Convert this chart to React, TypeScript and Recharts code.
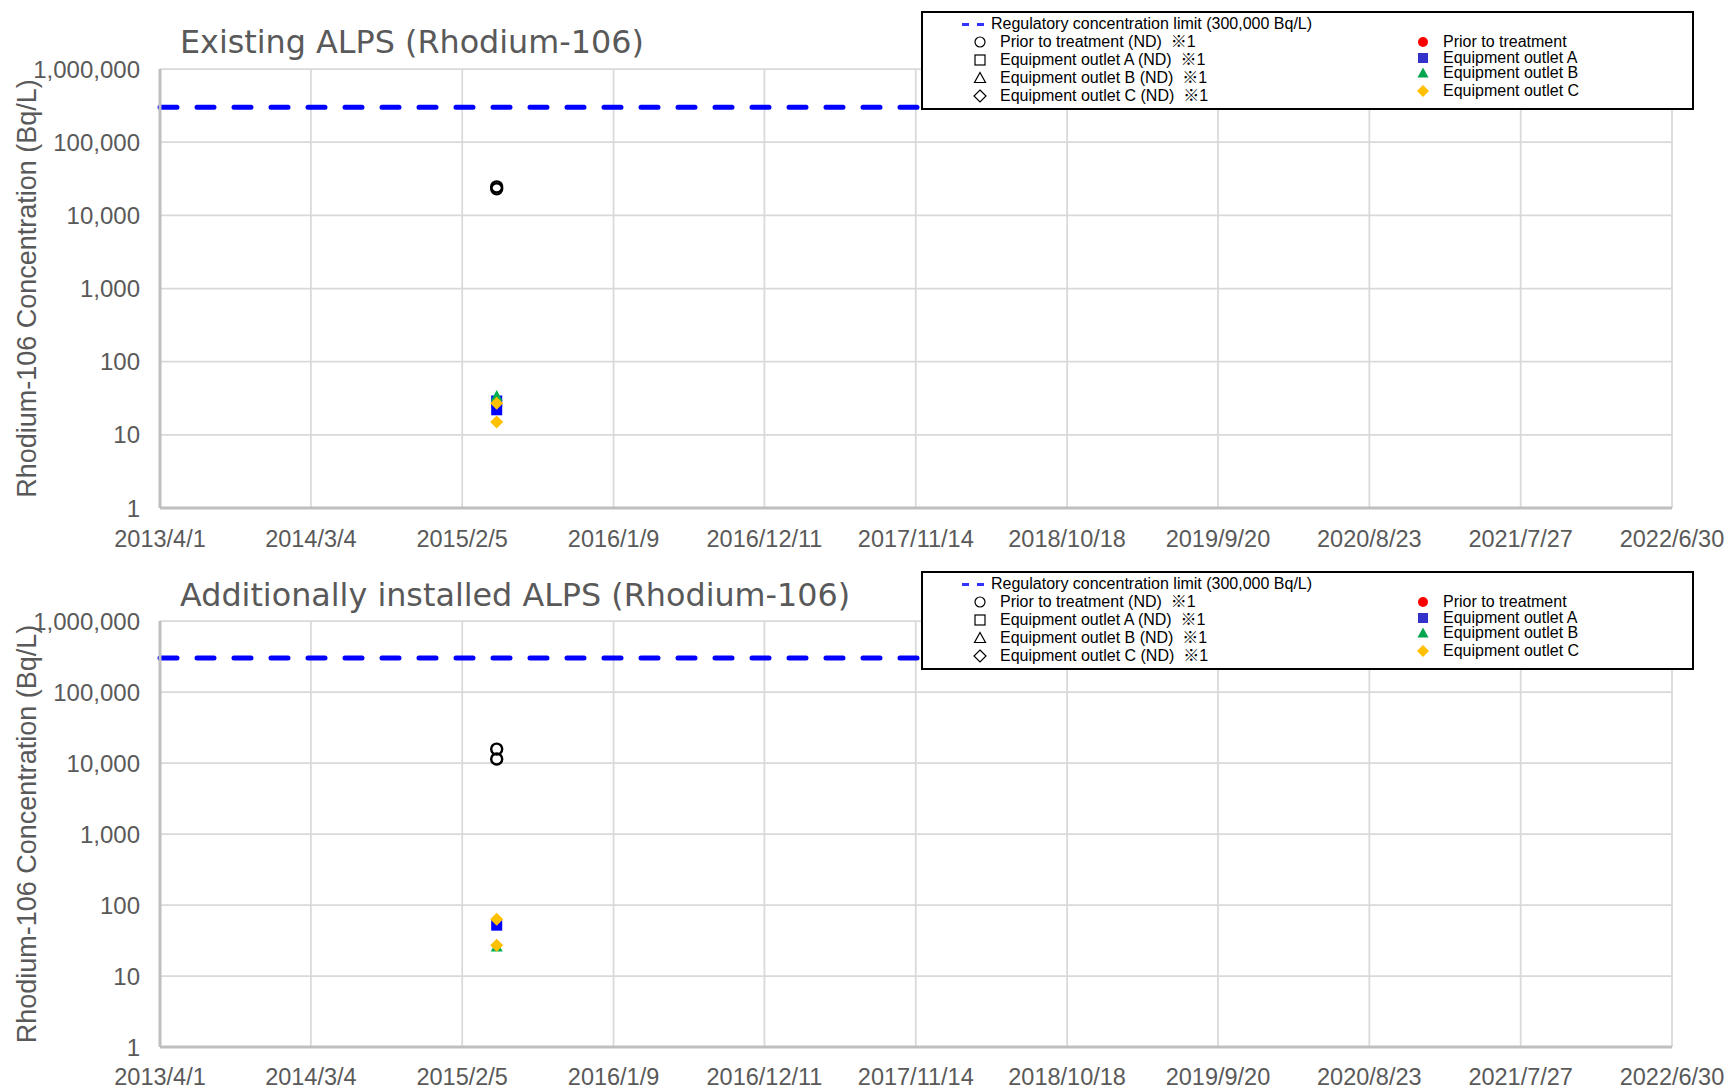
import { CartesianGrid, ReferenceLine, Scatter, ScatterChart, XAxis, YAxis } from 'recharts';

// axis ticks
const dateTicks = [
  '2013/4/1', '2014/3/4', '2015/2/5', '2016/1/9', '2016/12/11', '2017/11/14',
  '2018/10/18', '2019/9/20', '2020/8/23', '2021/7/27', '2022/6/30',
];
const concentrationTicks = [1, 10, 100, 1000, 10000, 100000, 1000000];
const regulatoryLimit = 300000;

// sampling date shared by every measurement
const samplingDate = '2015/4/23';

// Existing ALPS (Bq/L)
const existingPriorND = [24500, 23000];
const existingOutletA = [29, 22];
const existingOutletB = [34];
const existingOutletC = [27, 15];

// Additionally installed ALPS (Bq/L)
const additionalPriorND = [15700, 11400];
const additionalOutletA = [52];
const additionalOutletB = [26];
const additionalOutletC = [63, 27];

const toDay = (s: string) => {
  const [y, m, d] = s.split('/').map(Number);
  return Date.UTC(y, m - 1, d) / 86400000;
};
const tickDays = dateTicks.map(toDay);
const points = (values: number[]) => values.map((v) => ({ x: toDay(samplingDate), y: v }));

const GRAY = '#595959';
const ARIAL = '"Liberation Sans", Arial, "Noto Sans CJK JP", sans-serif';

const BLUE = '#0000ff';
const GREEN = '#00b050';
const ORANGE = '#ffc000';

const HollowCircle = (p: any) => (
  <circle cx={p.cx} cy={p.cy} r={5.5} fill="none" stroke="#000" strokeWidth={2.4} />
);
const FilledSquare = (p: any) => (
  <rect x={p.cx - 5.5} y={p.cy - 5.5} width={11} height={11} fill={BLUE} />
);
const FilledTriangle = (p: any) => (
  <polygon points={`${p.cx},${p.cy - 6} ${p.cx + 6},${p.cy + 5} ${p.cx - 6},${p.cy + 5}`} fill={GREEN} />
);
const FilledDiamond = (p: any) => (
  <polygon
    points={`${p.cx},${p.cy - 6.5} ${p.cx + 6.5},${p.cy} ${p.cx},${p.cy + 6.5} ${p.cx - 6.5},${p.cy}`}
    fill={ORANGE}
  />
);

const AxisTitle = (props: any) => {
  const vb = props.viewBox;
  const cx = vb.x - 33;
  const cy = vb.y + vb.height / 2;
  return (
    <text
      x={cx}
      y={cy}
      transform={`rotate(-90, ${cx}, ${cy})`}
      textAnchor="middle"
      dominantBaseline="central"
      fill={GRAY}
      fontSize={27}
      fontFamily={ARIAL}
    >
      Rhodium-106 Concentration (Bq/L)
    </text>
  );
};

type PanelProps = {
  top: number;
  height: number;
  xAxisHeight: number;
  tickGap: number;
  priorND: number[];
  outletA: number[];
  outletB: number[];
  outletC: number[];
};

function RhodiumPanel({ top, height, xAxisHeight, tickGap, priorND, outletA, outletB, outletC }: PanelProps) {
  return (
    <div style={{ position: 'absolute', left: 0, top }}>
      <ScatterChart width={1728} height={height} margin={{ top: 69, right: 56, bottom: 0, left: 60 }}>
        <CartesianGrid stroke="#d9d9d9" strokeWidth={1.75} />
        <XAxis
          type="number"
          dataKey="x"
          domain={[tickDays[0], tickDays[tickDays.length - 1]]}
          allowDataOverflow
          ticks={tickDays}
          interval={0}
          tickFormatter={(v: number) => dateTicks[tickDays.indexOf(v)] ?? ''}
          height={xAxisHeight}
          tickLine={false}
          tickSize={0}
          tickMargin={tickGap}
          axisLine={{ stroke: '#bfbfbf', strokeWidth: 3 }}
          tick={{ fill: GRAY, fontSize: 23.5, fontFamily: ARIAL }}
        />
        <YAxis
          type="number"
          dataKey="y"
          scale="log"
          domain={[1, 1000000]}
          allowDataOverflow
          ticks={concentrationTicks}
          interval={0}
          tickFormatter={(v: number) => v.toLocaleString('en-US')}
          width={100}
          tickLine={false}
          tickSize={0}
          tickMargin={20}
          axisLine={{ stroke: '#bfbfbf', strokeWidth: 3 }}
          tick={{ fill: GRAY, fontSize: 24, fontFamily: ARIAL }}
          label={AxisTitle}
        />
        <ReferenceLine
          y={regulatoryLimit}
          stroke={BLUE}
          strokeWidth={5}
          strokeDasharray="17 20"
          strokeLinecap="round"
        />
        <Scatter data={points(priorND)} shape={HollowCircle} isAnimationActive={false} />
        <Scatter data={points(outletA)} shape={FilledSquare} isAnimationActive={false} />
        <Scatter data={points(outletB)} shape={FilledTriangle} isAnimationActive={false} />
        <Scatter data={points(outletC)} shape={FilledDiamond} isAnimationActive={false} />
      </ScatterChart>
    </div>
  );
}

const legendLeft = [
  { label: 'Prior to treatment (ND)', note: '  ※1', kind: 'circle', y: 31 },
  { label: 'Equipment outlet A (ND)', note: '  ※1', kind: 'square', y: 49 },
  { label: 'Equipment outlet B (ND)', note: '  ※1', kind: 'triangle', y: 67 },
  { label: 'Equipment outlet C (ND)', note: '  ※1', kind: 'diamond', y: 85 },
];
const legendRight = [
  { label: 'Prior to treatment', kind: 'circle', color: '#ff0000', y: 31 },
  { label: 'Equipment outlet A', kind: 'square', color: '#3333cc', y: 47 },
  { label: 'Equipment outlet B', kind: 'triangle', color: '#00a550', y: 62 },
  { label: 'Equipment outlet C', kind: 'diamond', color: '#ffc000', y: 80 },
];

function LegendSymbol({ kind, fill, stroke }: { kind: string; fill: string; stroke?: string }) {
  const sw = stroke ? 1.2 : 0;
  return (
    <svg width={14} height={14} style={{ display: 'block' }}>
      {kind === 'circle' && <circle cx={7} cy={7} r={5} fill={fill} stroke={stroke} strokeWidth={sw} />}
      {kind === 'square' && <rect x={2} y={2} width={10} height={10} fill={fill} stroke={stroke} strokeWidth={sw} />}
      {kind === 'triangle' && <polygon points="7,1.5 12.5,11.5 1.5,11.5" fill={fill} stroke={stroke} strokeWidth={sw} />}
      {kind === 'diamond' && <polygon points="7,1 13,7 7,13 1,7" fill={fill} stroke={stroke} strokeWidth={sw} />}
    </svg>
  );
}

function LegendRow({ x, y, kind, fill, stroke, text }: any) {
  return (
    <>
      <div style={{ position: 'absolute', left: x - 7, top: y - 7 }}>
        <LegendSymbol kind={kind} fill={fill} stroke={stroke} />
      </div>
      <div style={{ position: 'absolute', left: x + 20, top: y - 9, height: 18, lineHeight: '18px', whiteSpace: 'pre' }}>
        {text}
      </div>
    </>
  );
}

function LegendBox({ top }: { top: number }) {
  return (
    <div
      style={{
        position: 'absolute',
        left: 921,
        top,
        width: 773,
        height: 99,
        boxSizing: 'border-box',
        border: '2px solid #000',
        background: '#fff',
        fontFamily: ARIAL,
        fontSize: 16,
        color: '#000',
      }}
    >
      <div style={{ position: 'absolute', left: 39, top: 10, width: 7, height: 3, background: '#3333ff' }} />
      <div style={{ position: 'absolute', left: 54, top: 10, width: 7, height: 3, background: '#3333ff' }} />
      <div style={{ position: 'absolute', left: 68, top: 2, height: 18, lineHeight: '18px', whiteSpace: 'pre' }}>
        Regulatory concentration limit (300,000 Bq/L)
      </div>
      {legendLeft.map((r) => (
        <LegendRow key={r.label} x={57} y={r.y - 2} kind={r.kind} fill="none" stroke="#000" text={r.label + r.note} />
      ))}
      {legendRight.map((r) => (
        <LegendRow key={r.label} x={500} y={r.y - 2} kind={r.kind} fill={r.color} text={r.label} />
      ))}
    </div>
  );
}

const titleStyle = {
  position: 'absolute' as const,
  left: 180,
  fontFamily: '"DejaVu Sans", Verdana, sans-serif',
  fontSize: 31.8,
  lineHeight: '36px',
  color: GRAY,
  whiteSpace: 'nowrap' as const,
};

export default function App() {
  return (
    <div style={{ position: 'absolute', left: 0, top: 0, width: 1728, height: 1089, background: '#fff', overflow: 'hidden' }}>
      <RhodiumPanel
        top={0}
        height={560}
        xAxisHeight={52}
        tickGap={22}
        priorND={existingPriorND}
        outletA={existingOutletA}
        outletB={existingOutletB}
        outletC={existingOutletC}
      />
      <RhodiumPanel
        top={552}
        height={537}
        xAxisHeight={42}
        tickGap={21}
        priorND={additionalPriorND}
        outletA={additionalOutletA}
        outletB={additionalOutletB}
        outletC={additionalOutletC}
      />
      <div style={{ ...titleStyle, top: 24 }}>Existing ALPS (Rhodium-106)</div>
      <div style={{ ...titleStyle, top: 577 }}>Additionally installed ALPS (Rhodium-106)</div>
      <LegendBox top={11} />
      <LegendBox top={571} />
    </div>
  );
}
